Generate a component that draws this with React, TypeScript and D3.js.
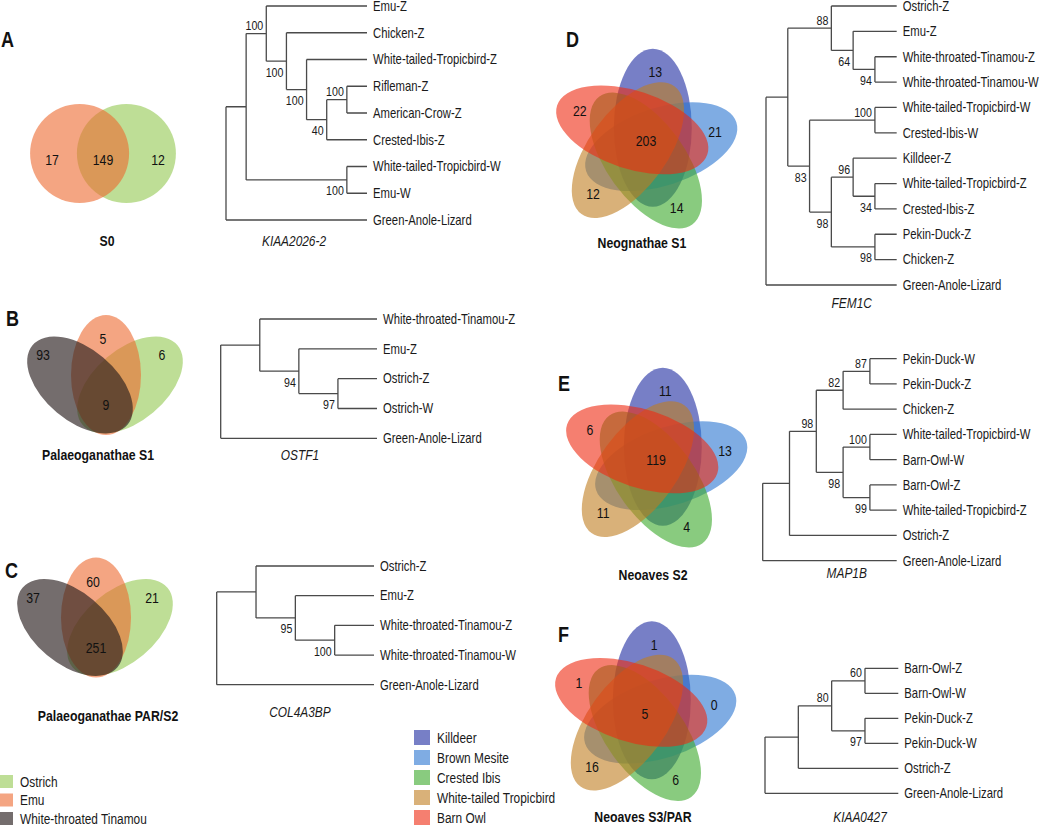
import React from 'react';
import * as d3 from 'd3';

const W = 1050, H = 825;
const FN = "'Liberation Sans', Arial, sans-serif";
const SX = 0.82; // horizontal condensing of the sans face

// ---------------- Data ----------------
const palaeoSpecies = ['Ostrich', 'Emu', 'White-throated Tinamou'];
const palaeoColors = ['#93c850', '#ed692f', '#2a1e1e'];
const neoSpecies = ['Killdeer', 'Brown Mesite', 'Crested Ibis', 'White-tailed Tropicbird', 'Barn Owl'];
const neoColors = ['#1c2aa0', '#2a74d0', '#3aa82a', '#c07d20', '#ee2a10'];

// two-set (Emu only, shared, Ostrich only)
const vennACounts = [17, 149, 12];
// three-set (Tinamou only, Emu only, Ostrich only, shared)
const vennBCounts = [93, 5, 6, 9];
const vennCCounts = [37, 60, 21, 251];
// five-set petals (Killdeer, Brown Mesite, Crested Ibis, Tropicbird, Barn Owl) then core
const vennDCounts = [13, 21, 14, 12, 22, 203];
const vennECounts = [11, 13, 4, 11, 6, 119];
const vennFCounts = [1, 0, 6, 16, 1, 5];

const venn2Titles = ['S0'];
const venn3Titles = ['Palaeoganathae S1', 'Palaeoganathae PAR/S2'];
const venn5Titles = ['Neognathae S1', 'Neoaves S2', 'Neoaves S3/PAR'];

const treeA = '(((Emu-Z,(Chicken-Z,(White-tailed-Tropicbird-Z,((Rifleman-Z,American-Crow-Z)100,Crested-Ibis-Z)40)100)100)100,(White-tailed-Tropicbird-W,Emu-W)100),Green-Anole-Lizard);';
const treeB = '((White-throated-Tinamou-Z,(Emu-Z,(Ostrich-Z,Ostrich-W)97)94),Green-Anole-Lizard);';
const treeC = '((Ostrich-Z,(Emu-Z,(White-throated-Tinamou-Z,White-throated-Tinamou-W)100)95),Green-Anole-Lizard);';
const treeD = '(((Ostrich-Z,(Emu-Z,(White-throated-Tinamou-Z,White-throated-Tinamou-W)94)64)88,((White-tailed-Tropicbird-W,Crested-Ibis-W)100,((Killdeer-Z,(White-tailed-Tropicbird-Z,Crested-Ibis-Z)34)96,(Pekin-Duck-Z,Chicken-Z)98)98)83),Green-Anole-Lizard);';
const treeE = '(((((Pekin-Duck-W,Pekin-Duck-Z)87,Chicken-Z)82,((White-tailed-Tropicbird-W,Barn-Owl-W)100,(Barn-Owl-Z,White-tailed-Tropicbird-Z)99)98)98,Ostrich-Z),Green-Anole-Lizard);';
const treeF = '((((Barn-Owl-Z,Barn-Owl-W)60,(Pekin-Duck-Z,Pekin-Duck-W)97)80,Ostrich-Z),Green-Anole-Lizard);';
const geneNames = ['KIAA2026-2', 'OSTF1', 'COL4A3BP', 'FEM1C', 'MAP1B', 'KIAA0427'];

// support-label side (a = above branch, b = below), preorder
const sidesA = ['a', 'b', 'b', 'b', 'a', 'b'];
const sidesB = ['b', 'b'];
const sidesC = ['b', 'b'];
const sidesD = ['a', 'b', 'b', 'b', 'a', 'b', 'a', 'b', 'b'];
const sidesE = ['a', 'a', 'a', 'b', 'a', 'b'];
const sidesF = ['a', 'a', 'b'];

// ---------------- helpers ----------------
type NNode = { name?: string; support?: string; children?: NNode[] };
function parseNewick(s: string): NNode {
  let i = 0;
  function node(): NNode {
    const n: NNode = {};
    if (s[i] === '(') {
      i++;
      n.children = [];
      for (;;) {
        n.children.push(node());
        if (s[i] === ',') { i++; continue; }
        if (s[i] === ')') { i++; break; }
        break;
      }
    }
    let lab = '';
    while (i < s.length && !',);'.includes(s[i])) { lab += s[i]; i++; }
    if (n.children) n.support = lab; else n.name = lab;
    return n;
  }
  return node();
}

const LINE = '#4a4a4a';
const TXT = '#1a1a1a';

function Txt(p: { x: number; y: number; size: number; anchor?: string; bold?: boolean; italic?: boolean; fill?: string; children: React.ReactNode }) {
  return (
    <text transform={`translate(${p.x},${p.y}) scale(${SX},1)`} textAnchor={p.anchor || 'start'}
      fontSize={p.size} fontWeight={p.bold ? 'bold' : 'normal'} fontStyle={p.italic ? 'italic' : 'normal'}
      fontFamily={FN} fill={p.fill || TXT}>{p.children}</text>
  );
}

function Tree(props: { newick: string; sides: string[]; x0: number; x1: number; y0: number; y1: number; gene: string; gx: number; gy: number }) {
  const { newick, sides, x0, x1, y0, y1, gene, gx, gy } = props;
  const root = d3.hierarchy<NNode>(parseNewick(newick), d => d.children);
  d3.cluster<NNode>().nodeSize([1, 1]).separation(() => 1)(root);
  const leaves = root.leaves();
  const ys = d3.scaleLinear().domain([leaves[0].x as number, leaves[leaves.length - 1].x as number]).range([y0, y1]);
  const xs = d3.scaleLinear().domain([0, d3.max(leaves, d => d.y as number) as number]).range([x0, x1]);
  const segs: string[] = [];
  const labels: JSX.Element[] = [];
  let k = 0;
  root.eachBefore(n => {
    const nx = xs(n.y as number), ny = ys(n.x as number);
    if (n.parent) segs.push(`M${xs(n.parent.y as number)},${ny}H${nx}`);
    if (n.children) {
      const c0 = n.children[0], c1 = n.children[n.children.length - 1];
      segs.push(`M${nx},${ys(c0.x as number)}V${ys(c1.x as number)}`);
      if (n.data.support) {
        const side = sides[k++];
        labels.push(<Txt key={'s' + k} x={nx - 3} y={side === 'a' ? ny - 3.5 : ny + 15.5} anchor="end" size={13}>{n.data.support}</Txt>);
      }
    } else {
      labels.push(<Txt key={'l' + n.data.name} x={nx + 6} y={ny + 4.8} size={13.8}>{n.data.name}</Txt>);
    }
  });
  return (
    <g>
      <path d={segs.join('')} stroke={LINE} strokeWidth={1.3} fill="none" />
      {labels}
      <Txt x={gx} y={gy} anchor="middle" italic size={14.5}>{gene}</Txt>
    </g>
  );
}

const palColor = d3.scaleOrdinal<string, string>().domain(palaeoSpecies).range(palaeoColors);
const neoColor = d3.scaleOrdinal<string, string>().domain(neoSpecies).range(neoColors);

function Num(p: { x: number; y: number; v: number | string }) {
  return <Txt x={p.x} y={p.y + 5.4} anchor="middle" size={15} fill="#111">{p.v}</Txt>;
}
function Title(p: { x: number; y: number; t: string }) {
  return <Txt x={p.x} y={p.y + 5.3} anchor="middle" size={15} bold fill="#111">{p.t}</Txt>;
}
function Letter(p: { x: number; y: number; t: string }) {
  return <Txt x={p.x} y={p.y} size={22} bold fill="#111">{p.t}</Txt>;
}

function Venn2(p: { cx: number; cy: number; counts: number[]; title: string; tx: number; ty: number }) {
  const r = 49.5, d = 23.4;
  const { cx, cy, counts } = p;
  return (
    <g>
      <circle cx={cx + d} cy={cy} r={r} fill={palColor('Ostrich')} fillOpacity={0.6} />
      <circle cx={cx - d} cy={cy} r={r} fill={palColor('Emu')} fillOpacity={0.6} />
      <Num x={cx - 51} y={cy + 6} v={counts[0]} />
      <Num x={cx} y={cy + 6} v={counts[1]} />
      <Num x={cx + 55} y={cy + 6} v={counts[2]} />
      <Title x={p.tx} y={p.ty} t={p.title} />
    </g>
  );
}

function Venn3(p: { cx: number; cy: number; counts: number[]; title: string; tx: number; ty: number }) {
  const { cx, cy, counts } = p;
  const shapes = [
    { sp: 'Ostrich', dx: 24, dy: 10, rx: 62, ry: 36, rot: -40 },
    { sp: 'Emu', dx: 0, dy: 0, rx: 35, ry: 60, rot: 0 },
    { sp: 'White-throated Tinamou', dx: -26, dy: 10, rx: 62, ry: 36, rot: 40 },
  ];
  const lab = [[-63, -20], [-3, -36], [56, -20], [0, 30]];
  return (
    <g>
      {shapes.map(s => (
        <ellipse key={s.sp} cx={cx + s.dx} cy={cy + s.dy} rx={s.rx} ry={s.ry}
          transform={`rotate(${s.rot} ${cx + s.dx} ${cy + s.dy})`}
          fill={palColor(s.sp)} fillOpacity={s.sp === 'White-throated Tinamou' ? 0.65 : 0.6} />
      ))}
      {counts.map((v, i) => <Num key={i} x={cx + lab[i][0]} y={cy + lab[i][1]} v={v} />)}
      <Title x={p.tx} y={p.ty} t={p.title} />
    </g>
  );
}

function Venn5(p: { cx: number; cy: number; counts: number[]; title: string; tx: number; ty: number }) {
  const { cx, cy, counts } = p;
  const a = 79, b = 39, off = 17.6, lr = 72;
  return (
    <g>
      {neoSpecies.map((sp, i) => {
        const th = -90 + 72 * i;
        const rad = (th + 30) * Math.PI / 180;
        const ex = cx + off * Math.cos(rad), ey = cy + off * Math.sin(rad);
        return <ellipse key={sp} cx={ex} cy={ey} rx={a} ry={b} transform={`rotate(${th} ${ex} ${ey})`}
          fill={neoColor(sp)} fillOpacity={0.6} />;
      })}
      {neoSpecies.map((sp, i) => {
        const rad = (-90 + 72 * i + 9) * Math.PI / 180;
        return <Num key={sp} x={cx + lr * Math.cos(rad)} y={cy + lr * Math.sin(rad)} v={counts[i]} />;
      })}
      <Num x={cx + 2} y={cy - 2} v={counts[5]} />
      <Title x={p.tx} y={p.ty} t={p.title} />
    </g>
  );
}

export default function App() {
  return (
    <svg width={W} height={H} viewBox={`0 0 ${W} ${H}`} style={{ position: 'absolute', left: 0, top: 0, background: '#fff' }}>
      <rect x={0} y={0} width={W} height={H} fill="#fff" />
      <Letter x={1} y={47} t="A" />
      <Letter x={6} y={326} t="B" />
      <Letter x={5} y={578} t="C" />
      <Letter x={566} y={47} t="D" />
      <Letter x={558} y={391} t="E" />
      <Letter x={558} y={642} t="F" />

      <Venn2 cx={103} cy={153.5} counts={vennACounts} title={venn2Titles[0]} tx={107} ty={241} />
      <Venn3 cx={106} cy={375} counts={vennBCounts} title={venn3Titles[0]} tx={98} ty={455} />
      <Venn3 cx={96} cy={617.5} counts={vennCCounts} title={venn3Titles[1]} tx={108} ty={716} />
      <Venn5 cx={644} cy={143} counts={vennDCounts} title={venn5Titles[0]} tx={642} ty={243} />
      <Venn5 cx={654} cy={462} counts={vennECounts} title={venn5Titles[1]} tx={653} ty={575} />
      <Venn5 cx={643} cy={715.5} counts={vennFCounts} title={venn5Titles[2]} tx={643} ty={817} />

      <Tree newick={treeA} sides={sidesA} x0={226} x1={367} y0={6} y1={220} gene={geneNames[0]} gx={294} gy={246} />
      <Tree newick={treeB} sides={sidesB} x0={220.7} x1={377} y0={319} y1={438.3} gene={geneNames[1]} gx={300} gy={460} />
      <Tree newick={treeC} sides={sidesC} x0={216.7} x1={374} y0={566} y1={684.7} gene={geneNames[2]} gx={300} gy={717} />
      <Tree newick={treeD} sides={sidesD} x0={766} x1={896.7} y0={6} y1={285} gene={geneNames[3]} gx={851.7} gy={308} />
      <Tree newick={treeE} sides={sidesE} x0={762.7} x1={896.7} y0={358.7} y1={560.7} gene={geneNames[4]} gx={846.7} gy={578} />
      <Tree newick={treeF} sides={sidesF} x0={765} x1={898.3} y0={668.3} y1={793.3} gene={geneNames[5]} gx={860} gy={821.5} />

      {palaeoSpecies.map((sp, i) => (
        <g key={sp}>
          <rect x={0} y={775 + i * 18.5} width={13} height={13} fill={palColor(sp)} fillOpacity={sp === 'White-throated Tinamou' ? 0.65 : 0.6} />
          <Txt x={20} y={786.5 + i * 18.5} size={14.5}>{sp}</Txt>
        </g>
      ))}
      {neoSpecies.map((sp, i) => (
        <g key={sp}>
          <rect x={414} y={730 + i * 20} width={16} height={15} fill={neoColor(sp)} fillOpacity={0.6} />
          <Txt x={437} y={743 + i * 20} size={14.5}>{sp}</Txt>
        </g>
      ))}
    </svg>
  );
}
